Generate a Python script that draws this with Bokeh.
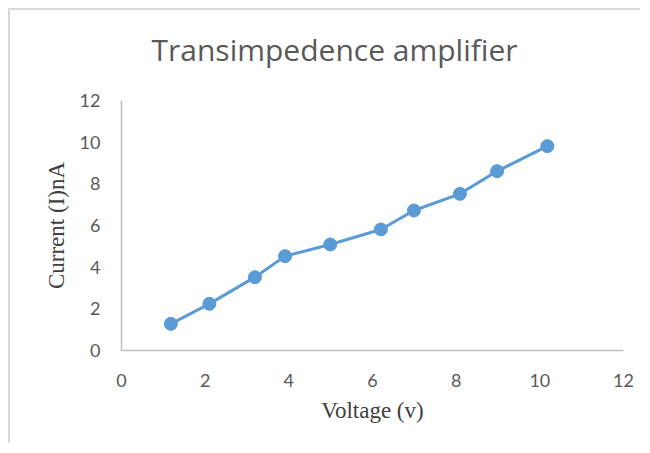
from bokeh.plotting import figure
from bokeh.models import FixedTicker, Range1d, Title
from bokeh.embed import file_html
from bokeh.resources import INLINE

title_text = "Transimpedence amplifier"
x_label = "Voltage (v)"
y_label = "Current (I)nA"
voltage = [1.18, 2.10, 3.19, 3.91, 4.99, 6.20, 6.99, 8.09, 8.98, 10.18]
current = [1.28, 2.24, 3.52, 4.53, 5.09, 5.81, 6.72, 7.52, 8.61, 9.81]
x_ticks = [0, 2, 4, 6, 8, 10, 12]
y_ticks = [0, 2, 4, 6, 8, 10, 12]

p = figure(width=632, height=435, output_backend="svg", toolbar_location=None,
           x_range=Range1d(0, 12), y_range=Range1d(0, 12),
           min_border_left=111, min_border_right=19, min_border_top=90, min_border_bottom=95)
p.styles = {"border-top": "2px solid #d9d9d9", "border-left": "2px solid #d9d9d9",
            "margin-left": "8px", "margin-top": "8px"}
p.outline_line_color = None
p.grid.visible = False
p.background_fill_color = "white"
p.border_fill_color = "white"
p.title = None

spacer = Title(text=" ", text_font_size="2px", standoff=24, text_color="white")
p.add_layout(spacer, "above")
main_title = Title(text=title_text, align="left", offset=30, standoff=6,
                   text_font="Open Sans", text_font_size="30px", text_font_style="normal",
                   text_color="#595959")
p.add_layout(main_title, "above")

for ax in (p.xaxis[0], p.yaxis[0]):
    ax.axis_line_color = "#bfbfbf"
    ax.axis_line_width = 1.5
    ax.major_tick_line_color = None
    ax.minor_tick_line_color = None
    ax.major_label_text_color = "#595959"
    ax.major_label_text_font = "Lato"
    ax.major_label_text_font_size = "18px"
    ax.axis_label_text_font = "Liberation Serif"
    ax.axis_label_text_font_style = "normal"
    ax.axis_label_text_font_size = "23px"
    ax.axis_label_text_color = "#404040"

p.xaxis.ticker = FixedTicker(ticks=x_ticks)
p.yaxis.ticker = FixedTicker(ticks=y_ticks)
p.xaxis.axis_label = x_label
p.yaxis.axis_label = y_label
p.xaxis.major_label_standoff = 17
p.yaxis.major_label_standoff = 15
p.xaxis.axis_label_standoff = 8
p.yaxis.axis_label_standoff = 8

p.line(voltage, current, line_color="#5b9bd5", line_width=3)
p.scatter(voltage, current, size=13, fill_color="#5b9bd5", line_color="#5b9bd5")

open("out.html", "w").write(file_html(p, INLINE))
